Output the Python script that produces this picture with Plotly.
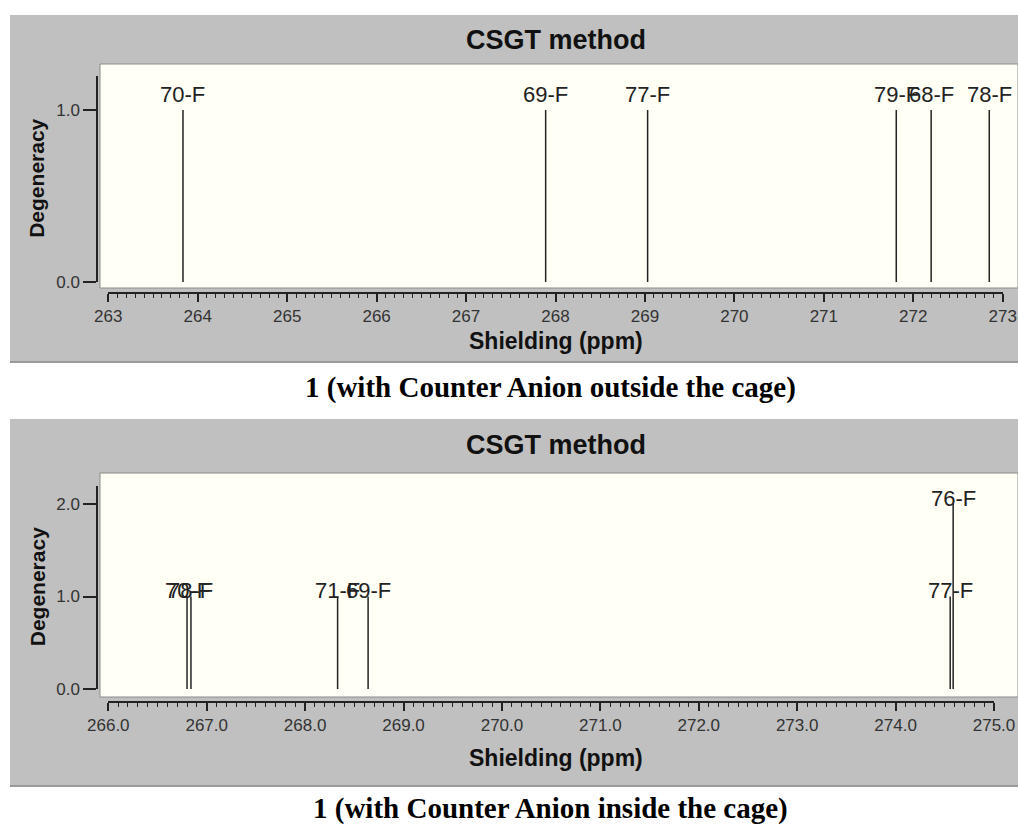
import plotly.graph_objects as go

# ---------------- data ----------------
top_shift = [263.835, 267.89, 269.03, 271.81, 272.20, 272.85]
top_deg = [1, 1, 1, 1, 1, 1]
top_labels = ["70-F", "69-F", "77-F", "79-F", "68-F", "78-F"]

bot_shift = [266.80, 266.84, 268.33, 268.64, 274.555, 274.585]
bot_deg = [1, 1, 1, 1, 1, 2]
bot_labels = ["70-F", "78-F", "71-F", "69-F", "77-F", "76-F"]

top_xticks = [263, 264, 265, 266, 267, 268, 269, 270, 271, 272, 273]
bot_xticks = [266.0, 267.0, 268.0, 269.0, 270.0, 271.0, 272.0, 273.0, 274.0, 275.0]
top_yticks = [0.0, 1.0]
bot_yticks = [0.0, 1.0, 2.0]

panel_title = "CSGT method"
x_title = "Shielding (ppm)"
y_title = "Degeneracy"
captions = ["1 (with Counter Anion outside the cage)",
            "1 (with Counter Anion inside the cage)"]

# ---------------- geometry helpers ----------------
W, H = 1018, 825
def px(x):
    return x / W
def py(y):
    return 1 - y / H

SANS = "Liberation Sans, Arial, Helvetica, sans-serif"
SERIF = "Liberation Serif, Times New Roman, serif"
GRAY = "#c0c0c0"
CREAM = "#fffff6"
INK = "#222222"

panels = [
    dict(shift=top_shift, deg=top_deg, labels=top_labels, xticks=top_xticks, yticks=top_yticks,
         xfmt="d", gray=(15, 362), cream=(64, 288), y0=282, yunit=172.0, ymax_axis=1.2,
         x0px=108.3, xunit=89.44, xaxis_pos=293, lab_shift=16,
         title_y=40, xtitle_y=341, caption_y=387, ax=("x", "y", "x3", "y3")),
    dict(shift=bot_shift, deg=bot_deg, labels=bot_labels, xticks=bot_xticks, yticks=bot_yticks,
         xfmt=".1f", gray=(419, 786), cream=(473, 697), y0=689, yunit=92.5, ymax_axis=2.2,
         x0px=108.3, xunit=98.41, xaxis_pos=702, lab_shift=6,
         title_y=445, xtitle_y=758, caption_y=808, ax=("x2", "y2", "x4", "y4")),
]

fig = go.Figure()
shapes = []
annotations = []
layout_axes = {}

for p in panels:
    gx, gy, vx, vy = p["ax"]
    xmin_t = p["xticks"][0]
    xmax_t = p["xticks"][-1]
    cream_l, cream_r = 100, 1018
    xr = [xmin_t + (cream_l - p["x0px"]) / p["xunit"], xmin_t + (cream_r - p["x0px"]) / p["xunit"]]
    yr = [(p["y0"] - p["cream"][1]) / p["yunit"], (p["y0"] - p["cream"][0]) / p["yunit"]]

    shapes.append(dict(type="rect", xref="paper", yref="paper", layer="below",
                       x0=px(10), x1=px(1018), y0=py(p["gray"][1]), y1=py(p["gray"][0]),
                       fillcolor=GRAY, line=dict(width=0)))
    shapes.append(dict(type="line", xref="paper", yref="paper", layer="below",
                       x0=px(10), x1=px(1018), y0=py(p["gray"][1]), y1=py(p["gray"][1]),
                       line=dict(color="#9a9a9a", width=2)))
    shapes.append(dict(type="rect", xref="paper", yref="paper", layer="below",
                       x0=px(cream_l), x1=px(cream_r), y0=py(p["cream"][1]), y1=py(p["cream"][0]),
                       fillcolor=CREAM, line=dict(color="#8c8c8c", width=1)))

    layout_axes[("xaxis" + gx[1:]) if gx != "x" else "xaxis"] = dict(
        domain=[px(cream_l), px(cream_r)], range=xr, anchor=gy, showgrid=True,
        gridcolor="#c4c4c4", griddash="dash", gridwidth=1, tickmode="array",
        tickvals=p["xticks"], showticklabels=False, ticks="", showline=False, zeroline=False,
        fixedrange=True, automargin=False)
    layout_axes[("yaxis" + gy[1:]) if gy != "y" else "yaxis"] = dict(
        domain=[py(p["cream"][1]), py(p["cream"][0])], range=yr, anchor=gx, showgrid=True,
        gridcolor="#c4c4c4", griddash="dash", gridwidth=1, tickmode="array",
        tickvals=p["yticks"], showticklabels=False, ticks="", showline=False, zeroline=False,
        fixedrange=True, automargin=False)

    x_right_px = p["x0px"] + (xmax_t - xmin_t) * p["xunit"]
    layout_axes["xaxis" + vx[1:]] = dict(
        domain=[px(p["x0px"]), px(x_right_px)], range=[xmin_t, xmax_t], anchor="free",
        position=py(p["xaxis_pos"]), side="bottom", showline=True, linecolor=INK, linewidth=1.5,
        ticks="outside", ticklen=8, tickwidth=1.5, tickcolor=INK, tickmode="array",
        tickvals=p["xticks"], tickformat=p["xfmt"], tickfont=dict(family=SANS, size=17, color="#333"),
        showgrid=False, zeroline=False, fixedrange=True, automargin=False,
        minor=dict(tickmode="linear", tick0=xmin_t, dtick=0.1, ticks="outside", ticklen=4,
                   tickwidth=1, tickcolor=INK, showgrid=False))
    y_top_px = p["y0"] - p["ymax_axis"] * p["yunit"]
    layout_axes["yaxis" + vy[1:]] = dict(
        domain=[py(p["y0"]), py(y_top_px)], range=[0, p["ymax_axis"]], anchor="free",
        position=px(97), side="left", showline=True, linecolor=INK, linewidth=1.5,
        ticks="outside", ticklen=13, tickwidth=1.5, tickcolor=INK, tickmode="array",
        tickvals=p["yticks"], tickformat=".1f", tickfont=dict(family=SANS, size=17, color="#333"),
        showgrid=False, zeroline=False, fixedrange=True, automargin=False)

    xs, ys = [], []
    for s, d in zip(p["shift"], p["deg"]):
        xs += [s, s, None]
        ys += [0, d, None]
    fig.add_trace(go.Scatter(x=xs, y=ys, mode="lines", xaxis=vx, yaxis=vy,
                             line=dict(color=INK, width=1.5), hoverinfo="skip", showlegend=False))

    for s, d, lab in zip(p["shift"], p["deg"], p["labels"]):
        annotations.append(dict(x=s, y=d, xref=vx, yref=vy, text=lab, showarrow=False,
                                yanchor="middle", xanchor="center", yshift=p["lab_shift"],
                                font=dict(family=SANS, size=22, color=INK)))

    annotations.append(dict(x=px(556), y=py(p["title_y"]), xref="paper", yref="paper",
                            text="<b>" + panel_title + "</b>", showarrow=False,
                            xanchor="center", yanchor="middle",
                            font=dict(family=SANS, size=27, color="#111")))
    annotations.append(dict(x=px(556), y=py(p["xtitle_y"]), xref="paper", yref="paper",
                            text="<b>" + x_title + "</b>", showarrow=False,
                            xanchor="center", yanchor="middle",
                            font=dict(family=SANS, size=23, color="#111")))
    annotations.append(dict(x=px(37), y=py((p["y0"] + y_top_px) / 2), xref="paper", yref="paper",
                            text="<b>" + y_title + "</b>", showarrow=False, textangle=-90,
                            xanchor="center", yanchor="middle",
                            font=dict(family=SANS, size=21, color="#111")))

for cap, p in zip(captions, panels):
    annotations.append(dict(x=px(550), y=py(p["caption_y"]), xref="paper", yref="paper",
                            text="<b>" + cap + "</b>", showarrow=False,
                            xanchor="center", yanchor="middle",
                            font=dict(family=SERIF, size=29, color="#000")))

fig.update_layout(
    width=W, height=H, margin=dict(l=0, r=0, t=0, b=0, pad=0, autoexpand=False),
    paper_bgcolor="white", plot_bgcolor="rgba(0,0,0,0)",
    showlegend=False, shapes=shapes, annotations=annotations,
    **layout_axes,
)

fig.write_html("out.html", config={"displayModeBar": False})
